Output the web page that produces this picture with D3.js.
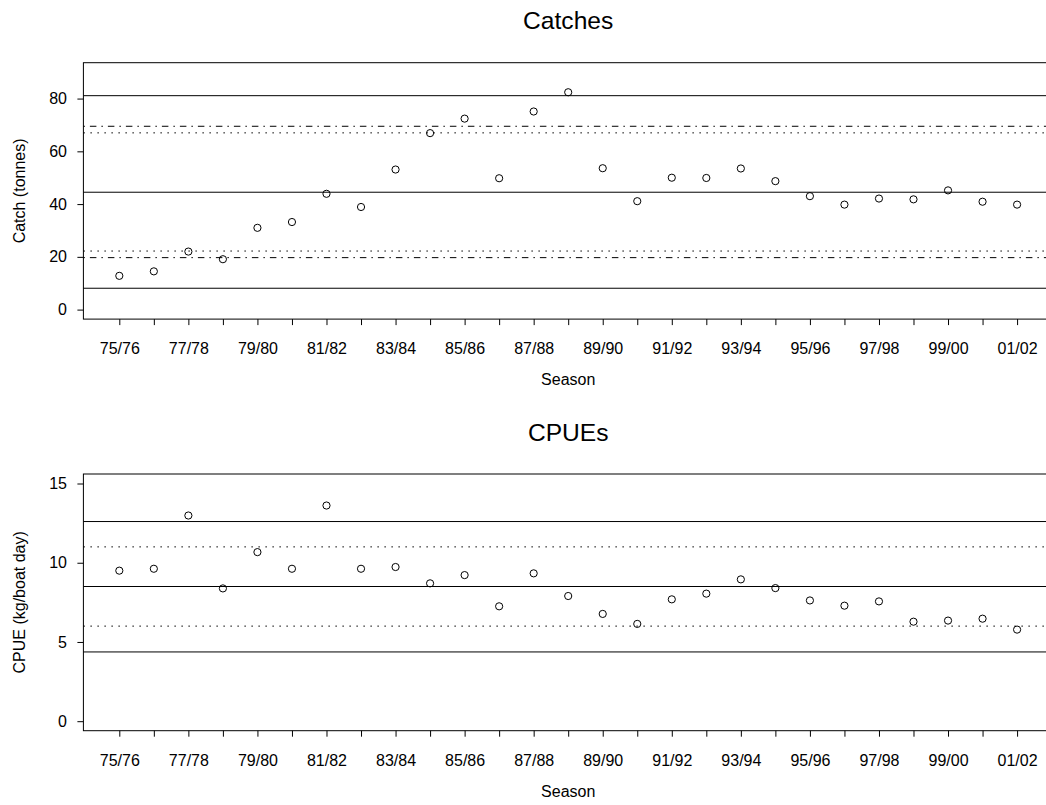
<!DOCTYPE html>
<html>
<head>
<meta charset="utf-8">
<script src="https://cdn.jsdelivr.net/npm/d3@7"></script>
<style>
  html, body { margin: 0; padding: 0; background: #fff; }
  svg { display: block; font-family: "Liberation Sans", Arial, sans-serif; }
</style>
</head>
<body>
<svg id="chart" width="1046" height="805"></svg>
<script>
// ---------- data ----------
const seasons = ["75/76","76/77","77/78","78/79","79/80","80/81","81/82","82/83","83/84","84/85",
  "85/86","86/87","87/88","88/89","89/90","90/91","91/92","92/93","93/94","94/95",
  "95/96","96/97","97/98","98/99","99/00","00/01","01/02"];
const catches = [12.8, 14.5, 22.0, 19.1, 31.0, 33.2, 43.9, 38.9, 53.1, 66.9,
  72.4, 49.8, 75.1, 82.4, 53.6, 41.1, 50.0, 49.9, 53.5, 48.7,
  43.0, 39.8, 42.1, 41.8, 45.2, 40.9, 39.8];
const cpue = [9.50, 9.62, 12.98, 8.38, 10.67, 9.62, 13.61, 9.62, 9.73, 8.70,
  9.22, 7.25, 9.33, 7.90, 6.77, 6.14, 7.69, 8.05, 8.95, 8.40,
  7.62, 7.29, 7.56, 6.28, 6.35, 6.47, 5.78];
const catchSolid = [81.1, 44.5, 8.1];
const catchDotted = [67.0, 22.2];
const catchDotDash = [69.5, 19.7];
const cpueSolid = [12.6, 8.5, 4.37];
const cpueDotted = [11.0, 6.0];
const catchTicks = [0, 20, 40, 60, 80];
const cpueTicks = [0, 5, 10, 15];
const catchLimits = [0, 90];
const cpueLimits = [0, 15];
const titles = ["Catches", "CPUEs"];
const yTitles = ["Catch (tonnes)", "CPUE (kg/boat day)"];
const xTitle = "Season";

// ---------- layout ----------
const svg = d3.select("#chart");
const left = 83.4, right = 1053;
const n = seasons.length;
const pad = 0.04 * (n - 1);
const x = d3.scaleLinear().domain([0 - pad, n - 1 + pad]).range([left, right]);

function panel(top, bottom, values, limits, ticks, solids, dotted, dotdash, title, ytitle) {
  const r = limits[1] - limits[0];
  const y = d3.scaleLinear()
    .domain([limits[0] - 0.04 * r, limits[1] + 0.04 * r])
    .range([bottom, top]);
  const g = svg.append("g");

  const hl = (vals, dash) => g.selectAll(null).data(vals).enter().append("line")
    .attr("x1", left).attr("x2", right)
    .attr("y1", d => y(d)).attr("y2", d => y(d))
    .attr("stroke", "#000").attr("stroke-width", 1)
    .attr("stroke-dasharray", dash);
  hl(solids, null);
  hl(dotted, "1.5 5.5");
  hl(dotdash, "1.5 5 6.5 5");

  g.selectAll(null).data(values).enter().append("circle")
    .attr("cx", (d, i) => x(i)).attr("cy", d => y(d)).attr("r", 3.6)
    .attr("fill", "none").attr("stroke", "#000").attr("stroke-width", 1);

  g.append("rect").attr("x", left).attr("y", top)
    .attr("width", right - left).attr("height", bottom - top)
    .attr("fill", "none").attr("stroke", "#000").attr("stroke-width", 1);

  const xa = g.append("g").attr("transform", `translate(0,${bottom})`)
    .call(d3.axisBottom(x).tickValues(d3.range(n))
      .tickFormat((d, i) => i % 2 === 0 ? seasons[i] : "")
      .tickSize(6).tickPadding(17.6));
  xa.select(".domain").remove();
  xa.selectAll("text").attr("font-size", 16).attr("fill", "#000").style("font-family", "inherit");

  const ya = g.append("g").attr("transform", `translate(${left},0)`)
    .call(d3.axisLeft(y).tickValues(ticks).tickSize(6).tickPadding(10.4));
  ya.select(".domain").remove();
  ya.selectAll("text").attr("font-size", 16).attr("fill", "#000").style("font-family", "inherit");

  g.append("text").attr("x", (left + right) / 2).attr("y", top - 33.3)
    .attr("text-anchor", "middle").attr("font-size", 24.6).text(title);
  g.append("text").attr("x", (left + right) / 2).attr("y", bottom + 66)
    .attr("text-anchor", "middle").attr("font-size", 16).text(xTitle);
  g.append("text")
    .attr("transform", `translate(25,${(top + bottom) / 2}) rotate(-90)`)
    .attr("text-anchor", "middle").attr("font-size", 16).text(ytitle);
}

panel(62.7, 319.1, catches, catchLimits, catchTicks, catchSolid, catchDotted, catchDotDash, titles[0], yTitles[0]);
panel(474, 730.7, cpue, cpueLimits, cpueTicks, cpueSolid, cpueDotted, [], titles[1], yTitles[1]);
</script>
</body>
</html>
